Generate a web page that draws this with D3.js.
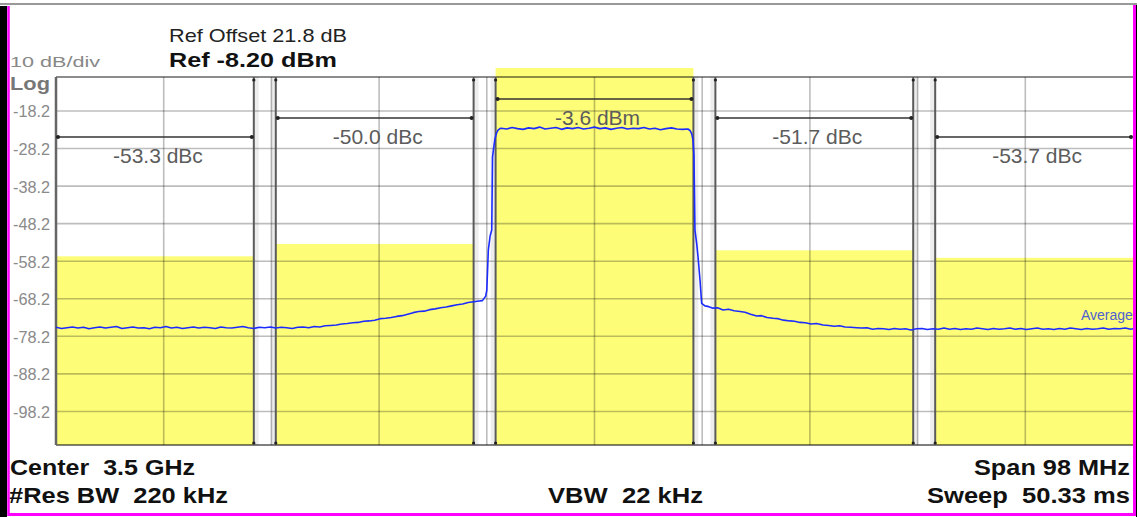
<!DOCTYPE html>
<html><head><meta charset="utf-8">
<script src="https://cdn.jsdelivr.net/npm/d3@7"></script>
<style>html,body{margin:0;padding:0;background:#fff;overflow:hidden}svg{display:block;font-family:"Liberation Sans",Arial,sans-serif}text{white-space:pre}</style>
</head><body><svg id="c" width="1137" height="517"></svg>
<script>
// ---------- data ----------
const yTicks = [-18.2, -28.2, -38.2, -48.2, -58.2, -68.2, -78.2, -88.2, -98.2];
const yTickLabels = ["-18.2", "-28.2", "-38.2", "-48.2", "-58.2", "-68.2", "-78.2", "-88.2", "-98.2"];
const spanMHz = 98;               // offsets relative to 3.5 GHz
const divisions = 10;
const channelCenters = [-40, -20, 0, 20, 40];   // MHz offset
const channelWidth = 18;                          // MHz integration BW
const channelPower = [-56.9, -53.6, -3.6, -55.3, -57.3]; // dBm
const channelLabels = ["-53.3 dBc", "-50.0 dBc", "-3.6 dBm", "-51.7 dBc", "-53.7 dBc"];
// trace: [MHz offset, dBm]
const trace = [
[-49,-75.8],[-48.5,-76.1],[-48,-75.9],[-47.5,-75.7],[-47,-76.0],[-46.5,-75.8],[-46,-76.2],[-45.5,-75.9],[-45,-75.7],[-44.5,-76.0],
[-44,-75.8],[-43.5,-75.6],[-43,-76.1],[-42.5,-75.9],[-42,-75.7],[-41.5,-76.0],[-41,-75.9],[-40.5,-76.2],[-40,-75.8],[-39.5,-75.9],
[-39,-75.6],[-38.5,-76.0],[-38,-75.8],[-37.5,-76.1],[-37,-75.9],[-36.5,-75.7],[-36,-76.0],[-35.5,-75.8],[-35,-75.9],[-34.5,-76.1],
[-34,-75.7],[-33.5,-75.9],[-33,-76.0],[-32.5,-75.8],[-32,-75.6],[-31.5,-75.9],[-31,-76.1],[-30.5,-75.8],[-30,-75.9],[-29.5,-75.7],
[-29,-76.0],[-28.5,-75.8],[-28,-75.9],[-27.5,-76.1],[-27,-75.8],[-26.5,-75.7],[-26,-75.9],[-25.5,-75.6],[-25,-75.7],[-24.5,-75.4],
[-24,-75.3],[-23.5,-75.2],[-23,-74.9],[-22.5,-74.8],[-22,-74.6],[-21.5,-74.5],[-21,-74.2],[-20.5,-74.1],[-20,-73.9],[-19.5,-73.5],
[-19,-73.4],[-18.5,-73.2],[-18,-72.9],[-17.5,-72.7],[-17,-72.3],[-16.5,-71.9],[-16,-71.6],[-15.5,-71.5],[-15,-71.1],[-14.5,-70.9],
[-14,-70.6],[-13.5,-70.4],[-13,-70.1],[-12.5,-69.8],[-12,-69.6],[-11.5,-69.2],[-11,-69.0],[-10.5,-68.8],[-10.2,-68.7],[-9.9,-67.5],
[-9.8,-65.9],[-9.66,-55.2],[-9.5,-51.5],[-9.35,-49.9],[-9.28,-30.5],[-9.15,-27.5],[-9.05,-25.5],[-8.9,-24.0],[-8.78,-23.3],[-8.6,-22.9],
[-8.5,-22.8],[-8,-23.0],[-7.5,-22.6],[-7,-22.9],[-6.5,-23.1],[-6,-22.7],[-5.5,-22.9],[-5,-22.5],[-4.5,-23.0],[-4,-22.8],
[-3.5,-22.6],[-3,-23.1],[-2.5,-22.7],[-2,-22.9],[-1.5,-22.6],[-1,-23.0],[-0.5,-22.8],[0,-22.5],[0.5,-22.9],[1,-22.7],
[1.5,-23.1],[2,-22.8],[2.5,-22.6],[3,-23.0],[3.5,-22.8],[4,-22.9],[4.5,-22.6],[5,-23.0],[5.5,-22.8],[6,-23.2],
[6.5,-22.9],[7,-22.7],[7.5,-23.0],[8,-23.1],[8.5,-23.0],[8.69,-23.4],[8.85,-24.3],[8.96,-25.9],[9.05,-30.0],[9.14,-49.9],
[9.3,-53.5],[9.42,-57.0],[9.6,-63.2],[9.75,-69.4],[10.05,-70.1],[10.4,-70.3],[10.78,-70.7],[11.2,-70.6],[11.7,-71.2],[12.2,-71.0],
[12.7,-71.4],[13.24,-71.6],[13.7,-71.8],[14.2,-72.3],[14.76,-72.8],[15.2,-72.7],[15.7,-73.2],[16.24,-73.4],[16.7,-73.5],[17.2,-73.9],
[17.79,-74.1],[18.2,-74.2],[18.7,-74.5],[19.2,-74.6],[19.7,-74.9],[20.2,-74.8],[20.8,-75.2],[21.3,-75.3],[21.8,-75.5],[22.3,-75.4],
[22.8,-75.7],[23.3,-75.8],[23.86,-75.9],[24.3,-76.0],[24.8,-75.9],[25.3,-76.3],[25.8,-76.1],[26.3,-76.2],[26.8,-76.4],[27.3,-76.1],
[27.8,-76.3],[28.3,-76.2],[28.8,-76.5],[29.3,-76.2],[29.8,-76.1],[30.3,-76.4],[30.8,-76.2],[31.3,-76.3],[31.8,-76.0],[32.3,-76.3],
[32.8,-76.1],[33.3,-76.4],[33.8,-76.2],[34.3,-76.3],[34.8,-76.0],[35.3,-76.2],[35.8,-76.4],[36.3,-76.1],[36.8,-76.3],[37.3,-76.2],
[37.8,-76.0],[38.3,-76.3],[38.8,-76.1],[39.3,-76.4],[39.8,-76.2],[40.3,-76.0],[40.8,-76.3],[41.3,-76.2],[41.8,-76.4],[42.3,-76.1],
[42.8,-76.3],[43.3,-76.0],[43.8,-76.2],[44.3,-76.4],[44.8,-76.1],[45.3,-76.3],[45.8,-76.2],[46.3,-76.0],[46.8,-76.3],[47.3,-76.1],
[47.8,-76.2],[48.3,-76.0],[48.8,-76.3],[49,-76.2]
];
const headerTexts = ["Ref Offset 21.8 dB", "Ref -8.20 dBm", "10 dB/div", "Log"];
const footerTexts = ["Center  3.5 GHz", "#Res BW  220 kHz", "VBW  22 kHz", "Span 98 MHz", "Sweep  50.33 ms"];
const traceName = "Average";

// ---------- layout ----------
const W = 1137, H = 517;
const L = 56, R = 1133, T = 77, B = 445;
const svg = d3.select("#c");
const x = d3.scaleLinear().domain([-spanMHz / 2, spanMHz / 2]).range([L, R]);
const y = d3.scaleLinear().domain([-108.2, -8.2]).range([449, 73.4]);
const defs = svg.append("defs");
defs.append("clipPath").attr("id", "plotClip").append("rect").attr("x", L).attr("y", T).attr("width", R - L).attr("height", B - T);
defs.append("clipPath").attr("id", "barClip").append("rect").attr("x", L).attr("y", T - 9).attr("width", R - L).attr("height", B - T + 9);

svg.append("rect").attr("width", W).attr("height", H).attr("fill", "#fff");

// yellow channel power bars
svg.append("g").attr("clip-path", "url(#barClip)").selectAll("rect").data(channelCenters).join("rect")
  .attr("x", d => x(d - channelWidth / 2)).attr("width", d => x(d + channelWidth / 2) - x(d - channelWidth / 2))
  .attr("y", (d, i) => y(channelPower[i])).attr("height", (d, i) => B - y(channelPower[i]))
  .attr("fill", "#fdfd78");

// grid
const grid = svg.append("g").attr("stroke", "rgba(0,0,0,0.26)").attr("stroke-width", 1.6);
grid.selectAll("line.h").data(yTicks).join("line").attr("class", "h")
  .attr("x1", L).attr("x2", R).attr("y1", d => y(d)).attr("y2", d => y(d));
const vdiv = d3.range(1, divisions).map(k => -spanMHz / 2 + k * spanMHz / divisions);
grid.selectAll("line.v").data(vdiv).join("line").attr("class", "v")
  .attr("x1", d => x(d)).attr("x2", d => x(d)).attr("y1", T).attr("y2", B);

// frame
svg.append("line").attr("x1", L).attr("x2", R).attr("y1", T).attr("y2", T).attr("stroke", "rgba(0,0,0,0.45)").attr("stroke-width", 2);
svg.append("line").attr("x1", L).attr("x2", R).attr("y1", B).attr("y2", B).attr("stroke", "rgba(0,0,0,0.5)").attr("stroke-width", 2);
svg.append("line").attr("x1", L).attr("x2", L).attr("y1", T).attr("y2", B).attr("stroke", "#666").attr("stroke-width", 2.5);

// channel edges
const edges = [];
channelCenters.forEach(c => { edges.push(c - channelWidth / 2); edges.push(c + channelWidth / 2); });
const inner = edges.filter(e => e > -spanMHz / 2 && e < spanMHz / 2);
const eg = svg.append("g");
eg.selectAll("line").data(inner).join("line")
  .attr("x1", d => x(d)).attr("x2", d => x(d)).attr("y1", T).attr("y2", B)
  .attr("stroke", "#5a5a5a").attr("stroke-width", 2);
eg.selectAll("rect.sh").data(inner).join("rect").attr("class", "sh")
  .attr("x", (d, i) => i % 2 ? x(d) - 5 : x(d) + 1).attr("width", 4).attr("y", T).attr("height", B - T)
  .attr("fill", "rgba(0,0,0,0.07)");
inner.forEach(e => {
  eg.append("circle").attr("cx", x(e)).attr("cy", T + 3).attr("r", 1.6).attr("fill", "#222");
  eg.append("circle").attr("cx", x(e)).attr("cy", B - 2).attr("r", 1.6).attr("fill", "#222");
});

// brackets and labels
const bg = svg.append("g");
channelCenters.forEach((c, i) => {
  const lvl = Math.abs(i - 2);
  const by = T + 22 + 19 * lvl;
  const x1 = Math.max(x(c - channelWidth / 2), L) + 2, x2 = Math.min(x(c + channelWidth / 2), R) - 2;
  bg.append("line").attr("x1", x1).attr("x2", x2).attr("y1", by).attr("y2", by).attr("stroke", "#333").attr("stroke-width", 1.6);
  bg.append("circle").attr("cx", x1).attr("cy", by).attr("r", 2).attr("fill", "#222");
  bg.append("circle").attr("cx", x2).attr("cy", by).attr("r", 2).attr("fill", "#222");
  bg.append("text").attr("x", x(c) + 3).attr("y", by + 26).attr("text-anchor", "middle")
    .attr("font-size", 21).attr("fill", "#5c5c5c").text(channelLabels[i]);
});

// trace
const line = d3.line().x(d => x(d[0])).y(d => y(d[1]));
svg.append("path").attr("clip-path", "url(#plotClip)").datum(trace).attr("d", line)
  .attr("fill", "none").attr("stroke", "#1c2cff").attr("stroke-width", 1.6).attr("stroke-linejoin", "round");
svg.append("text").attr("clip-path", "url(#plotClip)").attr("x", 1081).attr("y", 320)
  .attr("font-size", 14).attr("fill", "#5060d0").text(traceName);

// y tick labels
svg.append("g").selectAll("text").data(yTicks).join("text")
  .attr("x", 50).attr("y", d => y(d) + 1).attr("text-anchor", "end").attr("dominant-baseline", "central")
  .attr("font-size", 16).attr("fill", "#8a8a8a").attr("textLength", 37).attr("lengthAdjust", "spacingAndGlyphs")
  .text((d, i) => yTickLabels[i]);

// header / footer
function txt(s, xx, yy, size, weight, fill, len, anchor) {
  svg.append("text").attr("x", xx).attr("y", yy).attr("font-size", size).attr("font-weight", weight)
    .attr("fill", fill).attr("text-anchor", anchor || "start").attr("xml:space", "preserve")
    .attr("textLength", len).attr("lengthAdjust", "spacingAndGlyphs").text(s);
}
txt(headerTexts[0], 169, 42, 19, "normal", "#222", 178);
txt(headerTexts[1], 169, 67, 21, "bold", "#111", 168);
txt(headerTexts[2], 10, 67, 15.5, "normal", "#888", 90);
txt(headerTexts[3], 10, 90, 18, "bold", "#777", 40);
txt(footerTexts[0], 10, 475, 22, "bold", "#111", 185);
txt(footerTexts[1], 9, 503, 22, "bold", "#111", 219);
txt(footerTexts[2], 548, 503, 22, "bold", "#111", 155);
txt(footerTexts[3], 1130, 475, 22, "bold", "#111", 156, "end");
txt(footerTexts[4], 1130, 503, 22, "bold", "#111", 203, "end");

// outer frame
svg.append("line").attr("x1", 0).attr("x2", W).attr("y1", 4).attr("y2", 4).attr("stroke", "#999").attr("stroke-width", 2);
svg.append("rect").attr("x", 0).attr("y", 6).attr("width", 7).attr("height", H - 6).attr("fill", "#000");
svg.append("line").attr("x1", 8.5).attr("x2", 8.5).attr("y1", 6).attr("y2", 516).attr("stroke", "#ff00ff").attr("stroke-width", 2.5);
svg.append("line").attr("x1", 8).attr("x2", W).attr("y1", 514.5).attr("y2", 514.5).attr("stroke", "#ff00ff").attr("stroke-width", 3);
svg.append("line").attr("x1", 1134.5).attr("x2", 1134.5).attr("y1", 5).attr("y2", 516).attr("stroke", "#ff00ff").attr("stroke-width", 3);
svg.append("rect").attr("x", 1136).attr("y", 5).attr("width", 1).attr("height", H).attr("fill", "#000");
</script></body></html>
